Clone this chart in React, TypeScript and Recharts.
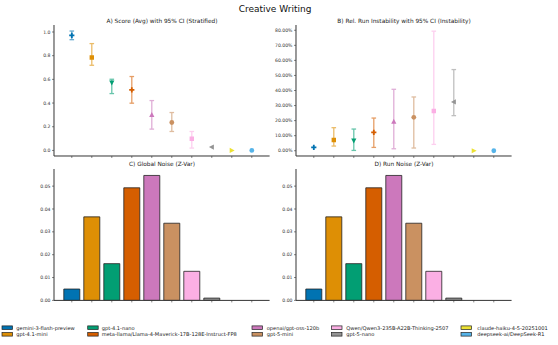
import React from 'react';
import { ComposedChart, Scatter, ErrorBar, XAxis, YAxis, BarChart, Bar, Cell } from 'recharts';

// Models, in plotting order
const models = [
  'gemini-3-flash-preview',
  'gpt-4.1-mini',
  'gpt-4.1-nano',
  'meta-llama/Llama-4-Maverick-17B-128E-Instruct-FP8',
  'openai/gpt-oss-120b',
  'gpt-5-mini',
  'Qwen/Qwen3-235B-A22B-Thinking-2507',
  'gpt-5-nano',
  'claude-haiku-4-5-20251001',
  'deepseek-ai/DeepSeek-R1',
];

const colors = ['#0173b2', '#de8f05', '#029e73', '#d55e00', '#cc78bc', '#ca9161', '#fbafe4', '#949494', '#ece133', '#56b4e9'];
const markers = ['plus', 'square', 'triDown', 'plus', 'triUp', 'circle', 'square', 'triLeft', 'triRight', 'circle'];

// A) average score with 95% CI
const scoreAvg = [0.972, 0.784, 0.573, 0.511, 0.300, 0.236, 0.098, 0.028, 0.0, 0.0];
const scoreLow = [0.935, 0.719, 0.480, 0.399, 0.180, 0.160, 0.020, 0.028, 0.0, 0.0];
const scoreHigh = [1.008, 0.902, 0.601, 0.624, 0.421, 0.320, 0.160, 0.028, 0.0, 0.0];
const scoreTicks = [0, 0.2, 0.4, 0.6, 0.8, 1.0];

// B) relative run instability with 95% CI
const instab = [0.022, 0.071, 0.067, 0.122, 0.193, 0.222, 0.264, 0.324, 0.0, 0.0];
const instabLow = [0.022, 0.031, 0.002, 0.022, 0.013, 0.018, 0.042, 0.233, 0.0, 0.0];
const instabHigh = [0.022, 0.153, 0.144, 0.217, 0.408, 0.357, 0.794, 0.539, 0.0, 0.0];
const instabTicks = [0, 0.1, 0.2, 0.3, 0.4, 0.5, 0.6, 0.7, 0.8];

// C) global noise, D) run noise
const globalNoise = [0.00497, 0.03655, 0.01608, 0.04927, 0.05468, 0.03377, 0.01272, 0.001, 0.0, 0.0];
const runNoise = [0.00497, 0.03655, 0.01608, 0.04927, 0.05468, 0.03377, 0.01272, 0.001, 0.0, 0.0];
const noiseTicks = [0, 0.01, 0.02, 0.03, 0.04, 0.05];

const xTicks = [0, 1, 2, 3, 4, 5, 6, 7, 8, 9];

const FONT = 'DejaVu Sans, sans-serif';
const AXIS = '#333333';
const PLOT_W = 215.6;
const Y_W = 40;
const PAD_T = 5;
const PAD_R = 5;
const X_H = 12;

function blend(hex: string, a = 0.6) {
  const n = parseInt(hex.slice(1), 16);
  const r = (n >> 16) & 255, g = (n >> 8) & 255, b = n & 255;
  const m = (c: number) => Math.round(c * a + 255 * (1 - a));
  return `rgb(${m(r)},${m(g)},${m(b)})`;
}

function makeMarker(kind: string, color: string) {
  return (props: any) => {
    const { cx, cy } = props;
    if (cx == null || cy == null) return <g />;
    const s = 2.6;
    let d = '';
    switch (kind) {
      case 'plus': {
        const t = 0.9;
        d = `M${cx - t},${cy - s}H${cx + t}V${cy - t}H${cx + s}V${cy + t}H${cx + t}V${cy + s}H${cx - t}V${cy + t}H${cx - s}V${cy - t}H${cx - t}Z`;
        break;
      }
      case 'square':
        d = `M${cx - 2.2},${cy - 2.2}h4.4v4.4h-4.4Z`;
        break;
      case 'triDown':
        d = `M${cx - s},${cy - s * 0.8}L${cx + s},${cy - s * 0.8}L${cx},${cy + s * 1.1}Z`;
        break;
      case 'triUp':
        d = `M${cx - s},${cy + s * 0.8}L${cx + s},${cy + s * 0.8}L${cx},${cy - s * 1.1}Z`;
        break;
      case 'triLeft':
        d = `M${cx + s * 0.8},${cy - s}L${cx + s * 0.8},${cy + s}L${cx - s * 1.1},${cy}Z`;
        break;
      case 'triRight':
        d = `M${cx - s * 0.8},${cy - s}L${cx - s * 0.8},${cy + s}L${cx + s * 1.1},${cy}Z`;
        break;
      default:
        return <circle cx={cx} cy={cy} r={2.4} fill={color} />;
    }
    return <path d={d} fill={color} />;
  };
}

const tickStyle = { fontSize: 4.6, fill: AXIS, fontFamily: FONT };

function ScatterPanel(props: {
  left: number; top: number; height: number;
  values: number[]; lows: number[]; highs: number[];
  domain: [number, number]; ticks: number[]; fmt: (v: number) => string;
}) {
  const { left, top, height, values, lows, highs, domain, ticks, fmt } = props;
  const W = PLOT_W + Y_W + PAD_R;
  const H = height + PAD_T + X_H;
  return (
    <div style={{ position: 'absolute', left: left - Y_W, top: top - PAD_T }}>
      <ComposedChart width={W} height={H} margin={{ top: PAD_T, right: PAD_R, bottom: 0, left: 0 }}>
        <XAxis type="number" dataKey="x" domain={[-0.89, 9.89]} ticks={xTicks} tickFormatter={() => ''}
          height={X_H} tickSize={2} axisLine={{ stroke: AXIS, strokeWidth: 1 }} tickLine={{ stroke: AXIS, strokeWidth: 0.6 }}
          allowDataOverflow interval={0} />
        <YAxis type="number" dataKey="y" domain={domain} ticks={ticks} tickFormatter={fmt} width={Y_W}
          tickSize={2} tickMargin={1.5} tick={tickStyle} axisLine={{ stroke: AXIS, strokeWidth: 1 }}
          tickLine={{ stroke: AXIS, strokeWidth: 0.6 }} allowDataOverflow interval={0} />
        {models.map((m, i) => (
          <Scatter key={m} name={m}
            data={[{ x: i, y: values[i], err: [values[i] - lows[i], highs[i] - values[i]] }]}
            fill={colors[i]} shape={makeMarker(markers[i], colors[i])} isAnimationActive={false}>
            {highs[i] - lows[i] > 0 ? (
              <ErrorBar dataKey="err" direction="y" width={2.3} stroke={blend(colors[i])} strokeWidth={1.3} isAnimationActive={false} />
            ) : null}
          </Scatter>
        ))}
      </ComposedChart>
    </div>
  );
}

function BarPanel(props: { left: number; top: number; height: number; values: number[] }) {
  const { left, top, height, values } = props;
  const rows = models.map((m, i) => ({ name: m, v: values[i] }));
  const W = PLOT_W + Y_W + PAD_R;
  const H = height + PAD_T + X_H;
  return (
    <div style={{ position: 'absolute', left: left - Y_W, top: top - PAD_T }}>
      <BarChart width={W} height={H} data={rows} margin={{ top: PAD_T, right: PAD_R, bottom: 0, left: 0 }} barCategoryGap="10%">
        <XAxis dataKey="name" type="category" padding={{ left: 7.8, right: 7.8 }} tickFormatter={() => ''}
          height={X_H} tickSize={2} axisLine={{ stroke: AXIS, strokeWidth: 1 }} tickLine={{ stroke: AXIS, strokeWidth: 0.6 }} interval={0} />
        <YAxis type="number" domain={[0, 0.0575]} ticks={noiseTicks} tickFormatter={(v: number) => v.toFixed(2)} width={Y_W}
          tickSize={2} tickMargin={1.5} tick={tickStyle} axisLine={{ stroke: AXIS, strokeWidth: 1 }}
          tickLine={{ stroke: AXIS, strokeWidth: 0.6 }} allowDataOverflow interval={0} />
        <Bar dataKey="v" stroke="#222222" strokeWidth={0.8} isAnimationActive={false}>
          {rows.map((r, i) => <Cell key={r.name} fill={colors[i]} />)}
        </Bar>
      </BarChart>
    </div>
  );
}

const pct = (v: number) => `${(v * 100).toFixed(2)}%`;
const one = (v: number) => v.toFixed(1);

const legendCols = [
  { sw: 2, tx: 16.3 },
  { sw: 87.7, tx: 101.7 },
  { sw: 252, tx: 266.7 },
  { sw: 331.5, tx: 346.3 },
  { sw: 461, tx: 477.3 },
];
const legendRows = [327.7, 334.3];

export default function App() {
  return (
    <div style={{ position: 'absolute', left: 0, top: 0, width: 558, height: 345, background: '#ffffff', overflow: 'hidden' }}>
      <ScatterPanel left={54} top={25} height={131} values={scoreAvg} lows={scoreLow} highs={scoreHigh}
        domain={[-0.047, 1.059]} ticks={scoreTicks} fmt={one} />
      <ScatterPanel left={296} top={25} height={131} values={instab} lows={instabLow} highs={instabHigh}
        domain={[-0.035, 0.835]} ticks={instabTicks} fmt={pct} />
      <BarPanel left={54} top={169.3} height={131.4} values={globalNoise} />
      <BarPanel left={296} top={169.3} height={131.4} values={runNoise} />
      <svg width={558} height={345} style={{ position: 'absolute', left: 0, top: 0, pointerEvents: 'none' }}
        fontFamily={FONT}>
        <text x={275} y={8.8} fontSize={9} textAnchor="middle" dominantBaseline="central" fill="#111">Creative Writing</text>
        <text x={162} y={20.7} fontSize={5.8} textAnchor="middle" dominantBaseline="central" fill="#222">A) Score (Avg) with 95% CI (Stratified)</text>
        <text x={404} y={20.7} fontSize={5.8} textAnchor="middle" dominantBaseline="central" fill="#222">B) Rel. Run Instability with 95% CI (Instability)</text>
        <text x={162} y={164.4} fontSize={5.8} textAnchor="middle" dominantBaseline="central" fill="#222">C) Global Noise (Z-Var)</text>
        <text x={404} y={164.4} fontSize={5.8} textAnchor="middle" dominantBaseline="central" fill="#222">D) Run Noise (Z-Var)</text>
        {models.map((m, i) => {
          const c = legendCols[Math.floor(i / 2)];
          const y = legendRows[i % 2];
          return (
            <g key={m}>
              <rect x={c.sw} y={y - 1.8} width={10.5} height={3.6} fill={colors[i]} stroke="#222" strokeWidth={0.7} />
              <text x={c.tx} y={y} fontSize={5.1} dominantBaseline="central" fill="#222">{m}</text>
            </g>
          );
        })}
      </svg>
    </div>
  );
}
